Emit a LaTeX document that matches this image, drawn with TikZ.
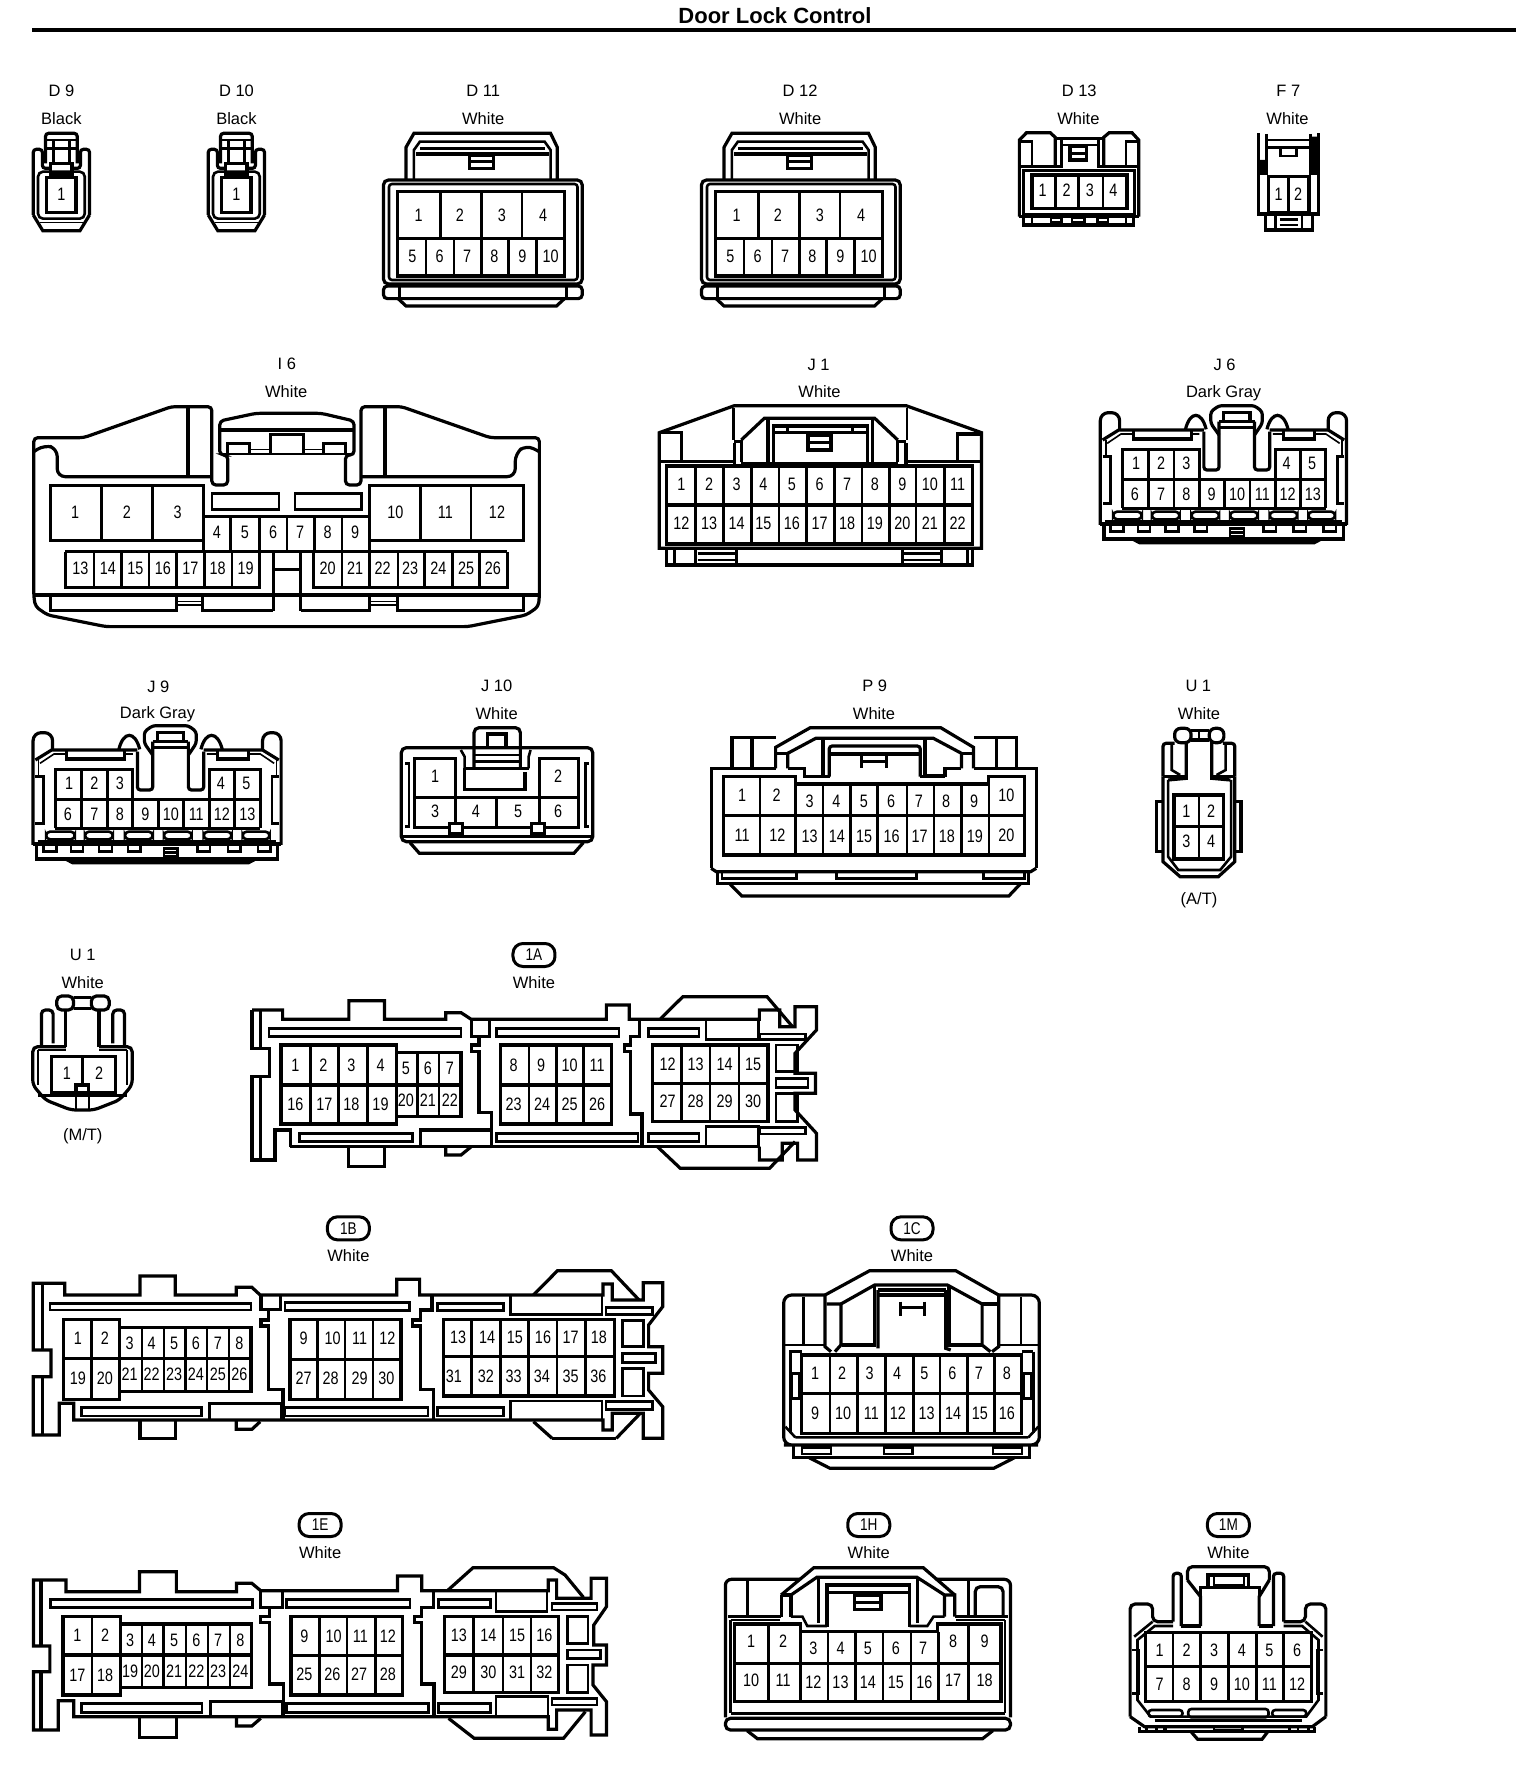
\documentclass[tikz,border=0pt]{standalone}
\usepackage{fontspec}
\setmainfont{Liberation Sans}
\newfontfamily\pinfont[FakeStretch=0.8]{Liberation Sans}
\newfontfamily\labfont{Liberation Sans}
\tikzset{
 ol/.style={line width=3.2pt,line join=miter},
 tl/.style={line width=2.6pt},
 hl/.style={line width=1.6pt},
 pinlab/.style={font={\pinfont\fontsize{18}{18}\selectfont},inner sep=0pt,text=black},
 clab/.style={font={\labfont\fontsize{16.5}{17}\selectfont},inner sep=0pt,text=black},
 capsule/.style={draw,line width=3pt,rounded corners=10pt,minimum width=42pt,minimum height=23pt,inner sep=0pt,font={\pinfont\fontsize{17}{17}\selectfont}},
 crop/.style n args={4}{xshift=#1pt,yshift=-#2pt,x=#3pt,y=-#4pt}
}
\newcommand\pinrow[2]{\foreach \ux/\lbl in {#2}{\node[pinlab] (\cn-\lbl) at (\ux,#1) {\lbl};}}
\newcommand\vlines[3]{\foreach \ux in {#3}{\draw[tl] (\ux,#1) -- (\ux,#2);}}
\newcommand\slt[4]{\draw[tl] (#1,#2) rectangle (#3,#4);}
\newcommand\DNine{%
 \draw[ol,rounded corners=3pt] (128,325) -- (107,325) -- (107,268) -- (84,268) -- (84,465);
 \draw[ol,rounded corners=3pt] (182,325) -- (203,325) -- (203,268) -- (226,268) -- (226,465);
 \draw[ol] (84,465) -- (108,512) -- (202,512) -- (226,465);
 \draw[tl,rounded corners=5pt] (96,335) rectangle (214,476);
 \draw[hl] (100,488) -- (210,488);
 \draw[ol,rounded corners=3pt] (115,310) -- (115,220) -- (195,220) -- (195,310);
 \draw[tl] (115,240) -- (195,240) (115,265) -- (195,265) (135,240) -- (135,305) (175,240) -- (175,305);
 \draw[ol] (128,310) rectangle (182,342);
 \draw[ol] (118,352) rectangle (192,458);
 \node[pinlab] (\cn-1) at (155,402) {1};
}
\newcommand\DEleven{%
 \draw[ol] (1025,358) -- (1025,262) -- (1045,220) -- (1390,220) -- (1407,262) -- (1407,358);
 \draw[tl] (1045,358) -- (1045,270) -- (1060,245) -- (1375,245) -- (1390,270) -- (1390,358);
 \draw[tl] (1060,265) -- (1375,265);
 \draw[ol] (1050,282) -- (1385,282);
 \draw[ol] (1185,285) rectangle (1245,325) (1185,305) -- (1245,305);
 \draw[ol,rounded corners=5pt] (968,360) rectangle (1470,672);
 \draw[tl,rounded corners=3pt] (982,372) rectangle (1458,660);
 \draw[ol] (1004,395) rectangle (1426,648);
 \draw[ol] (1004,535) -- (1426,535);
 \vlines{395}{535}{1112,1216,1318}
 \vlines{535}{648}{1075,1146,1215,1284,1355}
 \pinrow{465}{1057/1,1161/2,1267/3,1371/4}
 \pinrow{590}{1041/5,1110/6,1179/7,1248/8,1319/9,1390/10}
 \draw[ol,rounded corners=4pt] (968,678) rectangle (1470,716);
 \draw[tl] (1008,678) -- (1008,716) (1430,678) -- (1430,716);
 \draw[ol] (1005,716) -- (1025,738) -- (1405,738) -- (1425,716);
}
\newcommand\JSix{%
 \draw[ol,rounded corners=8pt] (1000,555) -- (1000,218) -- (1042,218) -- (1042,272);
 \draw[ol,rounded corners=8pt] (1535,555) -- (1535,218) -- (1495,218) -- (1495,272);
 \draw[ol] (1005,300) -- (1040,270) -- (1225,270);
 \draw[ol] (1530,300) -- (1495,270) -- (1368,270);
 \draw[hl] (1015,310) -- (1045,282) -- (1072,282) (1198,282) -- (1215,282);
 \draw[hl] (1520,310) -- (1490,282) -- (1465,282) (1398,282) -- (1375,282);
 \draw[hl] (1012,300) -- (1012,345) (1525,300) -- (1525,345);
 \draw[ol] (1072,270) -- (1072,297) -- (1198,297) -- (1198,270);
 \draw[ol] (1398,270) -- (1398,297) -- (1465,297) -- (1465,270);
 \draw[ol,rounded corners=3pt] (1258,285) -- (1240,250) -- (1240,215) -- (1258,197) -- (1335,197) -- (1352,215) -- (1352,250) -- (1335,285);
 \draw[ol] (1268,218) rectangle (1325,245);
 \draw[ol] (1258,262) -- (1335,262);
 \draw[ol] (1258,245) -- (1335,245);
 \draw[ol,rounded corners=3pt] (1225,275) -- (1225,390) -- (1258,390) -- (1258,245);
 \draw[ol,rounded corners=3pt] (1335,245) -- (1335,390) -- (1368,390) -- (1368,275);
 \draw[ol] (1185,268) .. controls (1195,212) and (1220,212) .. (1230,268);
 \draw[ol] (1362,268) .. controls (1372,212) and (1398,212) .. (1408,268);
 \draw[ol] (1048,505) -- (1048,328) -- (1215,328) -- (1215,418);
 \draw[ol] (1380,418) -- (1380,328) -- (1490,328) -- (1490,505);
 \draw[ol] (1048,505) -- (1490,505) (1048,418) -- (1490,418);
 \vlines{328}{418}{1105,1160,1435}
 \vlines{418}{505}{1105,1160,1215,1270,1325,1380,1435}
 \pinrow{370}{1078/1,1132/2,1187/3,1405/4,1460/5}
 \pinrow{462}{1075/6,1132/7,1187/8,1242/9,1297/10,1352/11,1407/12,1462/13}
 \draw[tl] (1005,350) -- (1022,350) -- (1022,490) -- (1005,490);
 \draw[tl] (1530,350) -- (1515,350) -- (1515,490) -- (1530,490);
 \foreach \ua/\ub in {1028/1090,1112/1172,1198/1258,1282/1342,1368/1428,1452/1510}{\draw[tl,rounded corners=4pt] (\ua,515) rectangle (\ub,538);}
 \draw[ol] (1000,552) -- (1535,552);
 \draw[hl] (1010,543) -- (1525,543);
 \draw[ol] (1008,555) -- (1008,597) -- (1528,597) -- (1528,555);
 \foreach \ua/\ub in {1022/1050,1082/1108,1142/1170,1205/1232,1355/1382,1420/1447,1485/1512}{\draw[tl] (\ua,555) -- (\ua,575) -- (\ub,575) -- (\ub,555);}
 \draw[tl] (1282,565) rectangle (1312,590) (1282,578) -- (1312,578);
 \draw[ol] (1070,597) -- (1085,608) -- (1465,608) -- (1480,597);
}
\begin{document}
\begin{tikzpicture}
\useasboundingbox (0pt,0pt) rectangle (1536pt,-1778pt);
\node[font={\bfseries\fontsize{22}{22}\selectfont},inner sep=0pt] (title) at (775pt,-16pt) {Door Lock Control};
\coordinate (ruleL) at (32pt,-29.5pt);
\coordinate (ruleR) at (1516pt,-29.5pt);
\draw[line width=4pt] (ruleL) -- (ruleR);

% ---- crop 1
\begin{scope}[crop={0}{60}{0.3961}{0.3333}]
 \node[clab] (l-d9) at (155,93) {D 9};
 \node[clab] (c-d9) at (155,177) {Black};
 \node[clab] (l-d10) at (597,93) {D 10};
 \node[clab] (c-d10) at (597,177) {Black};
 \node[clab] (l-d11) at (1220,93) {D 11};
 \node[clab] (c-d11) at (1220,177) {White};
 \def\cn{D9}\DNine
 \begin{scope}[xshift=175pt]\def\cn{D10}\DNine\end{scope}
 \def\cn{D11}\DEleven
 \begin{scope}[xshift=318pt]\def\cn{D12}\DEleven\end{scope}
\end{scope}

% ---- crop 2
\begin{scope}[crop={680}{60}{0.4216}{0.3333}]
 \node[clab] (l-d12) at (285,93) {D 12};
 \node[clab] (c-d12) at (285,177) {White};
 \node[clab] (l-d13) at (947,93) {D 13};
 \node[clab] (c-d13) at (945,177) {White};
 \node[clab] (l-f7) at (1443,93) {F 7};
 \node[clab] (c-f7) at (1441,177) {White};
 % D13
 \def\cn{D13}
 \draw[ol] (805,470) -- (805,240) -- (822,218) -- (878,218) -- (890,232) -- (890,318);
 \draw[ol] (1088,470) -- (1088,240) -- (1072,218) -- (1018,218) -- (1005,232) -- (1005,318);
 \draw[ol] (890,235) -- (1005,235);
 \draw[tl] (905,235) -- (905,325) (992,235) -- (992,325) (905,255) -- (992,255);
 \draw[tl] (805,245) -- (835,245) -- (835,318) (1088,245) -- (1058,245) -- (1058,318);
 \draw[ol] (805,320) -- (905,320) (992,320) -- (1088,320);
 \draw[tl] (815,332) rectangle (1078,462);
 \draw[ol] (925,260) rectangle (965,300) (925,280) -- (965,280);
 \draw[ol] (835,345) rectangle (1060,445);
 \vlines{345}{445}{890,945,1003}
 \pinrow{390}{860/1,917/2,972/3,1028/4}
 \draw[ol] (805,470) -- (1088,470);
 \draw[ol] (815,470) -- (815,495) -- (1075,495) -- (1075,470);
 \draw[tl] (835,470) -- (835,495) (1058,470) -- (1058,495);
 \foreach \ua/\ub in {880/905,930/960,990/1015}{\draw[tl] (\ua,472) rectangle (\ub,488);}
 % F7
 \def\cn{F7}
 \draw[ol] (1372,220) -- (1372,462) -- (1515,462) -- (1515,220);
 \draw[ol] (1392,222) -- (1392,345) (1495,222) -- (1495,345);
 \fill (1372,300) rectangle (1392,345) (1495,230) rectangle (1515,345);
 \draw[tl] (1392,240) -- (1495,240) (1392,262) -- (1495,262);
 \draw[tl] (1425,262) -- (1425,288) -- (1462,288) -- (1462,262);
 \draw[ol] (1395,350) rectangle (1492,458);
 \vlines{350}{458}{1443}
 \pinrow{403}{1420/1,1466/2}
 \draw[ol] (1388,462) -- (1388,510) -- (1500,510) -- (1500,462);
 \draw[tl] (1412,462) -- (1412,510) (1475,462) -- (1475,510) (1422,478) -- (1465,478) (1422,495) -- (1465,495);
\end{scope}

% ---- crop 3 : I6
\begin{scope}[crop={20}{340}{0.3444}{0.3333}]
 \def\cn{I6}
 \node[clab] (l-i6) at (775,72) {I 6};
 \node[clab] (c-i6) at (773,155) {White};
 \draw[ol,rounded corners=4pt] (40,770) -- (40,293) -- (185,293) -- (440,200) -- (557,200) -- (557,435) -- (603,435) -- (603,345) -- (580,345) -- (580,243) -- (685,220) -- (875,220) -- (970,243) -- (970,345) -- (945,345) -- (945,435) -- (990,435) -- (990,200) -- (1108,200) -- (1365,293) -- (1508,293) -- (1508,770) -- (1505,800) -- (1470,825) -- (1300,860) -- (250,860) -- (80,825) -- (45,800) -- cycle;
 \draw[ol] (580,270) -- (970,270);
 \draw[ol] (728,340) -- (728,283) -- (822,283) -- (822,340);
 \draw[tl] (603,340) -- (603,310) -- (667,310) -- (667,340) (882,340) -- (882,310) -- (945,310) -- (945,340);
 \draw[hl] (667,328) -- (728,328) (822,328) -- (882,328);
 \draw[tl] (580,342) -- (970,342);
 \draw[ol] (488,205) -- (488,410) (1060,205) -- (1060,410);
 \draw[ol,rounded corners=8pt] (40,335) -- (70,315) -- (108,325) -- (108,410) -- (557,410);
 \draw[ol,rounded corners=8pt] (990,410) -- (1438,410) -- (1438,340) -- (1470,315) -- (1508,335);
 \slt{557}{460}{752}{508}
 \slt{798}{460}{992}{508}
 \draw[ol] (532,602) -- (88,602) -- (88,437) -- (532,437) -- (532,635);
 \draw[ol] (1015,602) -- (1462,602) -- (1462,437) -- (1015,437) -- (1015,635);
 \draw[ol] (532,530) -- (1015,530);
 \vlines{437}{602}{236,384,1163,1310}
 \pinrow{517}{160/1,310/2,458/3,1090/10,1235/11,1385/12}
 \vlines{530}{635}{612,695,775,855,935}
 \pinrow{578}{572/4,653/5,735/6,813/7,893/8,973/9}
 \draw[ol] (132,635) -- (1415,635);
 \draw[ol] (695,635) -- (695,742) -- (132,742) -- (132,635);
 \draw[ol] (853,635) -- (853,742) -- (1415,742) -- (1415,635);
 \vlines{635}{742}{215,295,375,455,535,615,935,1015,1097,1175,1255,1335}
 \pinrow{686}{175/13,255/14,335/15,415/16,495/17,574/18,655/19,893/20,973/21,1053/22,1133/23,1215/24,1295/25,1373/26}
 \draw[ol] (735,635) -- (735,812) (815,635) -- (815,812) (735,688) -- (815,688);
 \draw[ol] (40,765) -- (1508,765);
 \draw[ol] (88,770) -- (88,812) -- (455,812) -- (455,770);
 \draw[hl] (455,785) -- (530,785) (455,795) -- (530,795) (1015,785) -- (1095,785) (1015,795) -- (1095,795);
 \draw[ol] (530,770) -- (530,812) -- (735,812);
 \draw[ol] (815,812) -- (1015,812) -- (1015,770);
 \draw[ol] (1095,770) -- (1095,812) -- (1462,812) -- (1462,770);
\end{scope}

% ---- crop 4 : J1, J6 and J9
\begin{scope}[crop={640}{340}{0.4603}{0.3333}]
 \def\cn{J1}
 \node[clab] (l-j1) at (388,75) {J 1};
 \node[clab] (c-j1) at (390,155) {White};
 \node[clab] (l-j6) at (1270,75) {J 6};
 \node[clab] (c-j6) at (1268,160) {Dark Gray};
 \draw[ol] (42,625) -- (42,278) -- (205,197) -- (578,197) -- (742,278) -- (742,625) -- cycle;
 \draw[tl] (203,205) -- (203,300) (580,205) -- (580,300);
 \draw[ol] (205,310) -- (205,378) (220,300) -- (220,365) (560,300) -- (560,365) (578,310) -- (578,378);
 \draw[tl] (205,305) -- (220,305) (560,305) -- (578,305);
 \draw[ol] (220,300) -- (270,235) -- (510,235) -- (560,300);
 \draw[ol] (290,365) -- (290,258) -- (495,258) -- (495,365);
 \draw[tl] (290,278) -- (495,278) (320,258) -- (320,278) (462,258) -- (462,278);
 \draw[ol] (278,235) -- (278,370) (505,235) -- (505,370);
 \draw[ol] (365,285) rectangle (415,330) (365,308) -- (415,308);
 \draw[ol] (42,278) -- (90,278) -- (90,362) (742,282) -- (690,282) -- (690,362);
 \draw[ol] (42,365) -- (205,365) (220,370) -- (560,370) (578,365) -- (742,365);
 \draw[ol] (58,378) rectangle (722,612) (58,495) -- (722,495);
 \vlines{378}{612}{120,182,242,302,362,422,482,542,600,662}
 \pinrow{433}{90/1,150/2,210/3,268/4,330/5,390/6,450/7,510/8,570/9,630/10,690/11}
 \pinrow{550}{90/12,150/13,210/14,268/15,330/16,390/17,450/18,510/19,570/20,630/21,690/22}
 \draw[ol] (58,625) -- (58,675) -- (722,675) -- (722,625);
 \draw[tl] (75,625) -- (75,675) (120,625) -- (120,675) (210,625) -- (210,675) (570,625) -- (570,675) (655,625) -- (655,675) (712,625) -- (712,675);
 \draw[tl] (125,640) -- (210,640) (125,660) -- (210,660) (570,640) -- (655,640) (570,660) -- (655,660);
 \def\cn{J6}\JSix
 \begin{scope}[xshift=-1070.5pt,yshift=-320pt,x=0.4636pt]\def\cn{J9}\JSix\end{scope}
\end{scope}

% ---- crop 5 : J10
\begin{scope}[crop={20}{660}{0.3768}{0.3333}]
 \def\cn{J10}
 \node[clab] (l-j9) at (367,80) {J 9};
 \node[clab] (c-j9) at (365,162) {Dark Gray};
 \node[clab] (l-j10) at (1265,78) {J 10};
 \node[clab] (c-j10) at (1265,160) {White};
 \draw[ol,rounded corners=5pt] (1012,545) -- (1012,263) -- (1520,263) -- (1520,545) -- cycle;
 \draw[ol] (1012,530) -- (1520,530);
 \draw[ol] (1035,548) -- (1060,580) -- (1470,580) -- (1495,548);
 \draw[ol,rounded corners=5pt] (1205,325) -- (1205,203) -- (1328,203) -- (1328,325);
 \draw[ol] (1240,262) -- (1240,222) -- (1290,222) -- (1290,262);
 \draw[ol] (1205,262) -- (1328,262);
 \draw[tl] (1205,285) -- (1328,285) (1205,305) -- (1328,305);
 \draw[tl] (1170,270) -- (1180,290) -- (1180,325) (1355,270) -- (1350,290) -- (1350,325);
 \draw[ol] (1180,325) -- (1350,325);
 \draw[ol] (1180,325) -- (1180,388) -- (1340,388) -- (1340,335);
 \draw[ol] (1155,412) -- (1155,295) -- (1048,295) -- (1048,503) -- (1482,503) -- (1482,295) -- (1378,295) -- (1378,412);
 \draw[ol] (1048,412) -- (1482,412);
 \vlines{412}{503}{1155,1265,1378}
 \draw[ol,fill=white] (1140,490) rectangle (1175,522);
 \draw[ol,fill=white] (1358,490) rectangle (1392,522);
 \draw[tl] (1022,310) -- (1032,310) -- (1032,500) -- (1022,500) (1510,310) -- (1500,310) -- (1500,500) -- (1510,500);
 \pinrow{350}{1102/1,1428/2}
 \pinrow{455}{1102/3,1210/4,1322/5,1428/6}
\end{scope}

% ---- crop 6 : P9, U1 A/T
\begin{scope}[crop={690}{660}{0.3644}{0.3333}]
 \def\cn{P9}
 \node[clab] (l-p9) at (507,77) {P 9};
 \node[clab] (c-p9) at (505,160) {White};
 \node[clab] (l-u1a) at (1395,77) {U 1};
 \node[clab] (c-u1a) at (1397,160) {White};
 \node[clab] (n-at) at (1397,722) {(A/T)};
 \draw[ol] (58,625) -- (58,325) -- (115,325) -- (115,233) -- (235,233);
 \draw[ol] (950,625) -- (950,325) -- (895,325) -- (895,233) -- (778,233);
 \draw[ol] (170,233) -- (170,325) (840,233) -- (840,325);
 \draw[ol] (115,325) -- (235,325) (778,325) -- (895,325);
 \draw[ol] (235,325) -- (235,262) -- (330,203) -- (688,203) -- (778,262) -- (778,325);
 \draw[ol] (268,325) -- (268,280) -- (345,235) -- (668,235) -- (745,280) -- (745,325);
 \draw[ol] (235,280) -- (268,280) (745,280) -- (778,280);
 \draw[ol] (268,325) -- (315,325) -- (315,350) -- (385,350);
 \draw[ol] (365,235) -- (365,350);
 \draw[ol,rounded corners=3pt] (382,350) -- (382,258) -- (632,258) -- (632,350);
 \draw[ol] (385,282) -- (630,282);
 \draw[ol] (645,235) -- (645,347) -- (700,347) -- (700,325) -- (745,325);
 \draw[ol] (632,350) -- (700,350);
 \draw[ol] (470,285) -- (470,325) (540,285) -- (540,325) (470,305) -- (540,305);
 \draw[ol] (58,625) -- (72,635) -- (935,635) -- (950,625);
 \draw[ol] (92,350) -- (290,350) -- (290,372) -- (820,372) -- (820,350) -- (918,350) -- (918,585) -- (92,585) -- cycle;
 \draw[ol] (92,467) -- (918,467);
 \vlines{350}{585}{192}
 \vlines{372}{585}{290,365,440,515,595,670,745,820}
 \pinrow{405}{143/1,238/2,868/10}
 \pinrow{425}{328/3,402/4,477/5,552/6,628/7,703/8,780/9}
 \pinrow{525}{143/11,240/12,868/20}
 \pinrow{530}{328/13,403/14,478/15,553/16,630/17,705/18,782/19}
 \draw[ol] (75,635) -- (75,670) -- (930,670) -- (930,635);
 \draw[tl] (88,640) -- (88,655) -- (292,655) -- (292,640) (402,640) -- (402,655) -- (622,655) -- (622,640) (805,640) -- (805,655) -- (918,655) -- (918,640);
 \draw[ol] (108,670) -- (142,708) -- (875,708) -- (908,670);
 % U1 A/T
 \def\cn{U1a}
 \draw[ol,rounded corners=6pt] (1330,205) rectangle (1375,248);
 \draw[ol,rounded corners=6pt] (1425,205) rectangle (1465,248);
 \draw[ol] (1375,212) -- (1425,212) (1375,240) -- (1425,240);
 \draw[tl] (1397,212) -- (1397,240);
 \draw[ol,rounded corners=3pt] (1298,350) -- (1298,250) -- (1330,250);
 \draw[ol,rounded corners=3pt] (1495,350) -- (1495,250) -- (1462,250);
 \draw[tl] (1322,250) -- (1322,330) -- (1345,345) (1470,250) -- (1470,330) -- (1445,345);
 \draw[ol] (1362,245) -- (1362,355) -- (1312,360) (1432,245) -- (1432,355) -- (1483,360);
 \draw[tl] (1312,360) -- (1312,590) -- (1340,630) -- (1455,630) -- (1485,590) -- (1485,360);
 \draw[ol] (1298,350) -- (1362,350) (1432,350) -- (1495,350);
 \draw[ol] (1298,350) -- (1298,605) -- (1345,650) -- (1450,650) -- (1495,605) -- (1495,350);
 \draw[ol] (1298,425) -- (1280,425) -- (1280,575) -- (1298,575);
 \draw[ol] (1495,425) -- (1512,425) -- (1512,575) -- (1495,575);
 \draw[ol] (1328,405) rectangle (1465,597) (1328,500) -- (1465,500);
 \vlines{405}{597}{1397}
 \pinrow{453}{1362/1,1430/2}
 \pinrow{545}{1362/3,1430/4}
\end{scope}

% ---- crop 7 : U1 M/T, 1A
\begin{scope}[crop={20}{930}{0.5099}{0.3333}]
 \def\cn{U1m}
 \node[clab] (l-u1m) at (123,75) {U 1};
 \node[clab] (c-u1m) at (123,157) {White};
 \node[clab] (n-mt) at (123,618) {(M/T)};
 \draw[ol,rounded corners=5pt] (72,198) rectangle (105,240);
 \draw[ol,rounded corners=5pt] (140,198) rectangle (175,240);
 \draw[ol] (105,203) -- (140,203) (105,235) -- (140,235);
 \draw[ol,rounded corners=4pt] (42,350) -- (42,240) -- (65,240) -- (65,340);
 \draw[ol,rounded corners=4pt] (205,350) -- (205,240) -- (182,240) -- (182,340);
 \draw[ol] (90,240) -- (90,350) (155,240) -- (155,350);
 \draw[ol,rounded corners=5pt] (90,350) -- (25,350) -- (25,465) -- (50,510) -- (100,540) -- (145,540) -- (195,510) -- (220,465) -- (220,350) -- (155,350);
 \draw[tl] (35,360) -- (35,465) (210,360) -- (210,465) (35,360) -- (90,360) (155,360) -- (210,360);
 \draw[ol] (62,380) rectangle (188,488);
 \vlines{380}{465}{122}
 \draw[ol] (110,465) rectangle (135,488);
 \pinrow{430}{92/1,155/2}
 \draw[tl] (35,497) -- (210,497);
 \draw[tl] (110,500) -- (110,540) (135,500) -- (135,540);
 % 1A
 \def\cn{1A}
 \node[capsule] (cap-1A) at (1008,75) {1A};
 \node[clab] (c-1A) at (1008,157) {White};
 \draw[ol] (455,240) -- (515,240) -- (515,268) -- (645,268) -- (645,212) -- (715,212) -- (715,268) -- (835,268) -- (835,248) -- (865,248) -- (885,268) -- (1150,268) -- (1150,225) -- (1195,225) -- (1195,268) -- (1255,268) -- (1300,200) -- (1465,200) -- (1515,290);
 \draw[ol] (1255,268) -- (1450,268) -- (1450,240) -- (1490,240) -- (1490,290) -- (1520,290) -- (1520,230) -- (1562,230) -- (1562,300) -- (1520,370) -- (1520,430) -- (1560,430) -- (1560,490) -- (1520,490) -- (1520,540) -- (1562,610) -- (1562,690) -- (1525,690) -- (1525,640) -- (1495,640) -- (1495,690) -- (1450,690) -- (1450,650);
 \draw[ol] (1520,635) -- (1470,715) -- (1295,715) -- (1250,650);
 \draw[ol] (530,650) -- (1450,650);
 \draw[ol] (455,240) -- (455,355) -- (490,355) -- (490,440) -- (455,440) -- (455,690) -- (500,690) -- (500,600) -- (530,600) -- (530,650);
 \draw[ol] (472,240) -- (472,355) (472,440) -- (472,690);
 \draw[ol] (645,650) -- (645,710) -- (715,710) -- (715,650);
 \draw[ol] (835,650) -- (835,675) -- (865,675) -- (885,650);
 \slt{488}{295}{865}{320} \slt{935}{295}{1175}{320} \slt{1232}{295}{1332}{320}
 \slt{1345}{268}{1448}{328} \slt{1450}{312}{1540}{328}
 \slt{548}{610}{770}{635} \slt{935}{610}{1212}{635} \slt{1232}{610}{1332}{635}
 \slt{1345}{590}{1448}{650} \slt{1450}{592}{1540}{612}
 \draw[ol] (785,650) -- (785,600) -- (925,600) -- (925,650);
 \draw[ol] (885,268) -- (885,320) -- (920,320) -- (920,268);
 \draw[ol] (900,320) -- (900,345) -- (885,345) -- (885,365) -- (900,365) -- (900,548) -- (925,548) -- (925,650);
 \draw[ol] (1215,268) -- (1215,320) -- (1197,320) -- (1197,345) -- (1185,345) -- (1185,365) -- (1197,365) -- (1197,552) -- (1220,552) -- (1220,650);
 \slt{1483}{345}{1525}{425} \slt{1483}{445}{1545}{472} \slt{1483}{490}{1525}{575}
 \draw[ol] (512,345) rectangle (738,582) (512,465) -- (738,465);
 \vlines{345}{582}{570,625,682}
 \pinrow{405}{540/1,595/2,650/3,707/4}
 \pinrow{522}{540/16,597/17,650/18,707/19}
 \draw[ol] (738,368) -- (865,368) -- (865,560) -- (738,560) (738,465) -- (865,465);
 \vlines{368}{560}{780,822}
 \pinrow{415}{757/5,800/6,843/7}
 \pinrow{510}{757/20,800/21,843/22}
 \draw[ol] (942,345) rectangle (1160,582) (942,465) -- (1160,465);
 \vlines{345}{582}{998,1052,1105}
 \pinrow{405}{968/8,1022/9,1078/10,1132/11}
 \pinrow{522}{968/23,1024/24,1078/25,1132/26}
 \draw[ol] (1240,345) rectangle (1467,575) (1240,460) -- (1467,460);
 \vlines{345}{575}{1297,1353,1410}
 \pinrow{403}{1270/12,1325/13,1382/14,1438/15}
 \pinrow{513}{1270/27,1325/28,1382/29,1438/30}
\end{scope}

% ---- crop 8 : 1B
\begin{scope}[crop={20}{1200}{0.4141}{0.3333}]
 \def\cn{1B}
 \node[capsule] (cap-1B) at (793,85) {1B};
 \node[clab] (c-1B) at (793,168) {White};
 \draw[ol] (32,250) -- (108,250) -- (108,285) -- (290,285) -- (290,228) -- (375,228) -- (375,285) -- (522,285) -- (522,262) -- (560,262) -- (580,285) -- (910,285) -- (910,238) -- (965,238) -- (965,285) -- (1408,285) -- (1408,252) -- (1430,252) -- (1430,300) -- (1505,300) -- (1505,248) -- (1552,248) -- (1552,320) -- (1518,375) -- (1518,440) -- (1552,440) -- (1552,520) -- (1518,520) -- (1518,570) -- (1552,620) -- (1552,715) -- (1505,715) -- (1505,640) -- (1430,640) -- (1430,690) -- (1408,690) -- (1408,660) -- (130,660) -- (130,610) -- (95,610) -- (95,705) -- (32,705) -- (32,530) -- (75,530) -- (75,450) -- (32,450) -- cycle;
 \draw[ol] (1240,285) -- (1298,212) -- (1428,212) -- (1495,300);
 \draw[ol] (1498,640) -- (1440,715) (1240,665) -- (1285,715);
 \draw[ol] (1285,715) -- (1440,715);
 \draw[ol] (55,250) -- (55,450) (55,530) -- (55,705);
 \draw[ol] (290,660) -- (290,715) -- (375,715) -- (375,660);
 \draw[ol] (522,660) -- (522,688) -- (560,688) -- (580,665);
 \slt{72}{310}{558}{330} \slt{640}{308}{940}{332} \slt{1008}{310}{1168}{332}
 \slt{1185}{285}{1405}{343} \slt{1415}{322}{1527}{343}
 \slt{148}{622}{438}{648} \slt{640}{622}{985}{648} \slt{1008}{622}{1168}{648}
 \slt{1185}{603}{1405}{660} \slt{1415}{605}{1527}{628}
 \draw[ol] (458,660) -- (458,610) -- (632,610) -- (632,660);
 \draw[ol] (582,285) -- (582,328) -- (630,328) -- (630,285);
 \draw[ol] (600,328) -- (600,360) -- (582,360) -- (582,378) -- (600,378) -- (600,568) -- (635,568) -- (635,660);
 \draw[ol] (995,285) -- (995,330) -- (968,330) -- (968,360) -- (948,360) -- (948,378) -- (968,378) -- (968,568) -- (998,568) -- (998,660);
 \slt{1455}{362}{1505}{440} \slt{1455}{460}{1535}{488} \slt{1455}{505}{1505}{588}
 \draw[ol] (105,358) rectangle (240,598) (105,475) -- (240,475);
 \vlines{358}{598}{172}
 \pinrow{415}{140/1,205/2}
 \pinrow{535}{140/19,205/20}
 \draw[ol] (240,382) -- (558,382) -- (558,575) -- (240,575) (240,475) -- (558,475);
 \vlines{382}{575}{295,348,400,452,505}
 \pinrow{430}{265/3,318/4,372/5,425/6,478/7,530/8}
 \pinrow{522}{265/21,318/22,372/23,425/24,478/25,530/26}
 \draw[ol] (652,358) rectangle (920,598) (652,478) -- (920,478);
 \vlines{358}{598}{718,785,852}
 \pinrow{415}{685/9,755/10,820/11,887/12}
 \pinrow{535}{685/27,750/28,820/29,885/30}
 \draw[ol] (1022,358) rectangle (1435,588) (1022,470) -- (1435,470);
 \vlines{358}{588}{1090,1160,1228,1297,1365}
 \pinrow{413}{1058/13,1128/14,1195/15,1263/16,1330/17,1398/18}
 \pinrow{530}{1048/31,1125/32,1192/33,1260/34,1330/35,1397/36}
\end{scope}

% ---- crop 9 : 1C
\begin{scope}[crop={762.2}{1200}{0.3307}{0.3333}]
 \def\cn{1C}
 \node[capsule] (cap-1C) at (453,85) {1C};
 \node[clab] (c-1C) at (453,168) {White};
 \draw[ol] (190,285) -- (325,212) -- (585,212) -- (715,285);
 \draw[ol,rounded corners=8pt] (190,285) -- (65,285) -- (65,735) -- (90,735) -- (810,735) -- (838,735) -- (838,285) -- (715,285);
 \draw[tl,rounded corners=8pt] (125,435) -- (125,290) (782,435) -- (782,290);
 \draw[ol] (190,285) -- (190,440) -- (208,455) (715,285) -- (715,440) -- (695,455);
 \draw[ol] (195,312) -- (238,312) -- (238,435) -- (220,455);
 \draw[ol] (238,312) -- (340,255) -- (560,255) -- (665,312) -- (665,435) -- (690,455);
 \draw[ol] (665,312) -- (712,312);
 \draw[ol] (340,255) -- (340,435) -- (240,435) (565,255) -- (565,435) -- (665,435);
 \draw[ol] (350,270) -- (555,270) (350,285) -- (555,285);
 \draw[ol] (350,270) -- (350,445) (555,270) -- (555,445) -- (570,450);
 \draw[ol] (418,305) -- (418,348) (490,305) -- (490,348) (418,322) -- (490,322);
 \draw[tl] (70,435) -- (190,435) (715,435) -- (835,435);
 \draw[tl] (85,455) -- (85,700) (820,455) -- (820,700) (82,455) -- (120,455) (785,455) -- (820,455);
 \draw[ol] (120,465) rectangle (785,700) (120,580) -- (785,580);
 \vlines{465}{700}{205,288,372,457,538,620,703}
 \pinrow{520}{160/1,242/2,325/3,408/4,490/5,575/6,655/7,740/8}
 \pinrow{640}{160/9,245/10,330/11,410/12,497/13,577/14,658/15,740/16}
 \draw[tl] (90,520) rectangle (112,595) (792,520) rectangle (815,595);
 \draw[tl] (100,712) -- (805,712) (70,680) -- (100,712) (835,680) -- (805,712);
 \draw[ol] (95,735) -- (95,772) -- (808,772) -- (808,735);
 \slt{120}{742}{208}{762} \slt{368}{742}{455}{762} \slt{698}{742}{785}{762}
 \draw[ol] (140,772) -- (205,805) -- (700,805) -- (765,772);
\end{scope}

% ---- crop 10 : 1E
\begin{scope}[crop={20}{1500}{0.3833}{0.3333}]
 \def\cn{1E}
 \node[capsule] (cap-1E) at (783,75) {1E};
 \node[clab] (c-1E) at (783,157) {White};
 \draw[ol] (35,240) -- (120,240) -- (120,275) -- (312,275) -- (312,215) -- (408,215) -- (408,275) -- (565,275) -- (565,250) -- (605,250) -- (628,272) -- (985,272) -- (985,228) -- (1048,228) -- (1048,272) -- (1378,272) -- (1378,240) -- (1400,240) -- (1400,295) -- (1490,295) -- (1490,235) -- (1530,235) -- (1530,320) -- (1497,375) -- (1497,435) -- (1530,435) -- (1530,495) -- (1495,495) -- (1495,555) -- (1530,605) -- (1530,705) -- (1490,705) -- (1490,630) -- (1400,630) -- (1400,688) -- (1378,688) -- (1378,650) -- (140,650) -- (140,602) -- (100,602) -- (100,690) -- (35,690) -- (35,515) -- (78,515) -- (78,438) -- (35,438) -- cycle;
 \draw[ol] (1115,272) -- (1182,203) -- (1392,203) -- (1422,225) -- (1470,292);
 \draw[ol] (1475,635) -- (1418,715) -- (1185,715) -- (1118,655);
 \draw[ol] (55,240) -- (55,438) (55,515) -- (55,690);
 \draw[ol] (312,650) -- (312,712) -- (408,712) -- (408,650);
 \draw[ol] (565,650) -- (565,678) -- (605,678) -- (628,655);
 \slt{80}{298}{607}{322} \slt{695}{298}{1017}{322} \slt{1092}{298}{1228}{322}
 \slt{1242}{272}{1375}{335} \slt{1388}{310}{1505}{330}
 \slt{160}{610}{475}{638} \slt{695}{610}{1065}{638} \slt{1092}{610}{1228}{638}
 \slt{1242}{590}{1378}{650} \slt{1388}{595}{1505}{615}
 \draw[ol] (497,650) -- (497,605) -- (685,605) -- (685,650);
 \draw[ol] (628,272) -- (628,322) -- (685,322) -- (685,272);
 \draw[ol] (650,322) -- (650,350) -- (628,350) -- (628,368) -- (650,368) -- (650,552) -- (688,552) -- (688,650);
 \draw[ol] (1078,272) -- (1078,322) -- (1048,322) -- (1048,350) -- (1030,350) -- (1030,368) -- (1048,368) -- (1048,552) -- (1080,552) -- (1080,650);
 \slt{1428}{350}{1482}{430} \slt{1428}{450}{1515}{475} \slt{1428}{495}{1482}{578}
 \draw[ol] (112,350) rectangle (262,585) (112,465) -- (262,465);
 \vlines{350}{585}{188}
 \pinrow{405}{150/1,222/2}
 \pinrow{525}{150/17,222/18}
 \draw[ol] (262,372) -- (605,372) -- (605,562) -- (262,562) (262,465) -- (605,465);
 \vlines{372}{562}{318,375,433,490,548}
 \pinrow{420}{287/3,344/4,402/5,460/6,517/7,575/8}
 \pinrow{513}{287/19,344/20,402/21,460/22,517/23,575/24}
 \draw[ol] (707,350) rectangle (997,585) (707,467) -- (997,467);
 \vlines{350}{585}{782,853,927}
 \pinrow{408}{742/9,818/10,888/11,960/12}
 \pinrow{522}{742/25,815/26,885/27,960/28}
 \draw[ol] (1108,350) rectangle (1405,578) (1108,465) -- (1405,465);
 \vlines{350}{578}{1183,1260,1333}
 \pinrow{405}{1145/13,1222/14,1297/15,1368/16}
 \pinrow{517}{1145/29,1222/30,1297/31,1368/32}
\end{scope}

% ---- crop 11 : 1H, 1M
\begin{scope}[crop={700}{1500}{0.4096}{0.3333}]
 \def\cn{1H}
 \node[capsule] (cap-1H) at (412,75) {1H};
 \node[clab] (c-1H) at (412,157) {White};
 \draw[ol,rounded corners=6pt] (245,238) -- (62,238) -- (62,652);
 \draw[ol,rounded corners=6pt] (575,238) -- (758,238) -- (758,652);
 \draw[ol] (198,285) -- (278,203) -- (545,203) -- (622,285);
 \draw[ol] (115,240) -- (115,345) (655,240) -- (655,345);
 \draw[ol,rounded corners=5pt] (672,345) -- (672,260) -- (740,260) -- (740,345);
 \draw[ol] (198,285) -- (198,350) (222,285) -- (222,350) (198,285) -- (222,285);
 \draw[ol] (222,285) -- (285,232) -- (530,232) -- (597,285) -- (622,285) -- (622,350) (597,285) -- (597,350);
 \draw[ol] (290,232) -- (290,368) (530,232) -- (530,368);
 \draw[ol] (310,380) -- (310,255) -- (512,255) -- (512,380);
 \draw[tl] (310,278) -- (512,278);
 \draw[ol] (378,285) rectangle (442,328) (378,307) -- (442,307);
 \draw[tl] (222,350) -- (250,350) -- (262,378) -- (310,378);
 \draw[tl] (512,378) -- (555,378) -- (570,350) -- (597,350);
 \draw[ol] (68,350) -- (198,350) (622,350) -- (752,350);
 \draw[tl] (75,360) -- (75,640) (745,360) -- (745,640) (75,360) -- (195,360) (625,360) -- (745,360);
 \draw[ol] (85,372) -- (245,372) -- (245,395) -- (580,395) -- (580,372) -- (735,372) -- (735,605) -- (85,605) -- cycle;
 \draw[ol] (85,490) -- (735,490);
 \vlines{372}{605}{167,655}
 \vlines{395}{605}{245,312,380,447,515,582}
 \pinrow{425}{125/1,203/2,618/8,695/9}
 \pinrow{445}{277/3,343/4,410/5,478/6,545/7}
 \pinrow{540}{125/10,203/11,618/17,695/18}
 \pinrow{548}{277/12,343/13,410/14,478/15,548/16}
 \draw[ol] (75,640) -- (745,640);
 \draw[ol,rounded corners=5pt] (62,655) rectangle (758,690);
 \draw[ol] (115,692) -- (140,716) -- (690,716) -- (715,692);
 % 1M
 \def\cn{1M}
 \node[capsule] (cap-1M) at (1290,75) {1M};
 \node[clab] (c-1M) at (1290,157) {White};
 \draw[ol,rounded corners=5pt] (1050,650) -- (1050,312) -- (1105,312) -- (1105,365) -- (1155,365);
 \draw[ol,rounded corners=5pt] (1528,650) -- (1528,312) -- (1478,312) -- (1478,365) -- (1425,365);
 \draw[ol,rounded corners=3pt] (1155,365) -- (1155,220) -- (1175,220) -- (1175,378);
 \draw[ol,rounded corners=3pt] (1425,365) -- (1425,220) -- (1400,220) -- (1400,378);
 \draw[ol,rounded corners=5pt] (1190,240) -- (1190,200) -- (1390,200) -- (1390,240);
 \draw[ol] (1190,240) -- (1222,290) -- (1222,378) (1390,240) -- (1365,290) -- (1365,378);
 \draw[ol] (1175,378) -- (1222,378) (1365,378) -- (1400,378);
 \draw[ol] (1222,290) -- (1222,262) -- (1365,262) -- (1365,290);
 \draw[ol] (1240,262) -- (1240,225) -- (1340,225) -- (1340,262);
 \draw[tl] (1255,225) -- (1255,255) -- (1328,255) -- (1328,225);
 \draw[tl] (1105,365) -- (1060,410) (1478,365) -- (1520,410);
 \draw[tl] (1155,378) -- (1110,378) -- (1068,420) -- (1068,600) -- (1100,650) -- (1480,650) -- (1510,600) -- (1510,420) -- (1470,378) -- (1425,378);
 \draw[ol] (1088,398) rectangle (1492,605) (1088,500) -- (1492,500);
 \vlines{398}{605}{1155,1222,1290,1358,1425}
 \pinrow{450}{1122/1,1188/2,1255/3,1323/4,1390/5,1458/6}
 \pinrow{553}{1122/7,1188/8,1255/9,1323/10,1390/11,1458/12}
 \draw[tl] (1055,450) -- (1070,450) -- (1070,580) -- (1055,580) (1522,450) -- (1508,450) -- (1508,580) -- (1522,580);
 \draw[tl,rounded corners=3pt] (1095,630) rectangle (1178,650);
 \draw[tl,rounded corners=3pt] (1192,627) rectangle (1388,652);
 \draw[tl,rounded corners=3pt] (1397,630) rectangle (1480,650);
 \draw[ol] (1050,650) -- (1085,680) -- (1495,680) -- (1528,650);
 \draw[tl] (1110,662) -- (1470,662);
 \draw[ol] (1072,680) -- (1072,695) -- (1135,695) -- (1135,680);
 \draw[ol] (1500,680) -- (1500,695) -- (1440,695) -- (1440,680);
 \draw[tl] (1135,695) -- (1440,695) (1090,680) -- (1090,695) (1115,680) -- (1115,695) (1460,680) -- (1460,695) (1485,680) -- (1485,695);
 \draw[tl] (1255,680) rectangle (1325,690);
 \draw[ol] (1200,697) -- (1215,718) -- (1372,718) -- (1385,697);
\end{scope}
\end{tikzpicture}
\end{document}
